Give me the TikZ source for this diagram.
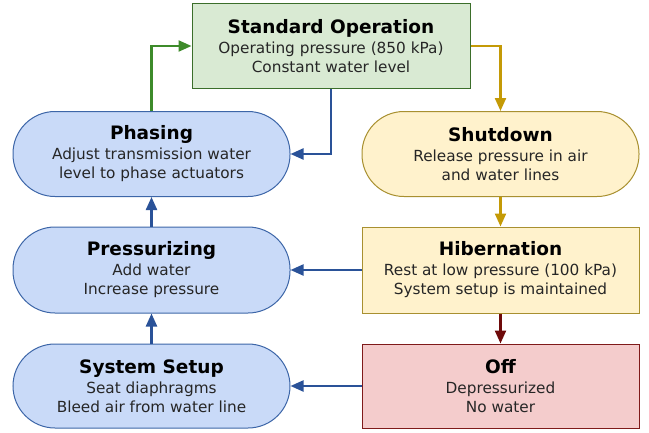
\documentclass[tikz,border=0pt]{standalone}
\usepackage{fontspec}
\setmainfont{DejaVu Sans}
\usetikzlibrary{arrows.meta}
\definecolor{bluefill}{HTML}{C9DAF8}
\definecolor{bluedraw}{HTML}{3D66A8}
\definecolor{bluearrow}{HTML}{2A5298}
\definecolor{greenfill}{HTML}{D9EAD3}
\definecolor{greendraw}{HTML}{3B6E2A}
\definecolor{greenarrow}{HTML}{3D8B2A}
\definecolor{yellowfill}{HTML}{FFF2CC}
\definecolor{yellowdraw}{HTML}{A89030}
\definecolor{goldarrow}{HTML}{C49A06}
\definecolor{redfill}{HTML}{F4CCCC}
\definecolor{reddraw}{HTML}{7F1A1A}
\definecolor{redarrow}{HTML}{6E0A0A}
\definecolor{bodytext}{HTML}{262626}
\newcommand{\ttl}[1]{{\fontsize{18.5}{22}\bfseries\color{black}#1}}
\newcommand{\bdy}{\fontsize{15.3}{19}\selectfont\color{bodytext}}
\begin{document}
\begin{tikzpicture}[x=1pt,y=-1pt,
  box/.style={draw, line width=1pt, minimum width=277pt, minimum height=85pt,
    align=center, inner sep=0pt, font=\bdy},
  pill/.style={box, rounded corners=42pt, fill=bluefill, draw=bluedraw},
  conn/.style={line width=2.2pt, -{Triangle[length=13pt,width=11pt]}}
]
\useasboundingbox (0,0) rectangle (649,432);
\node[box, fill=greenfill, draw=greendraw, minimum width=278pt] (std) at (331,46)
  {\ttl{Standard Operation}\\[1pt] Operating pressure (850 kPa)\\ Constant water level};
\node[box, rounded corners=42pt, fill=yellowfill, draw=yellowdraw] (shut) at (500.5,154)
  {\ttl{Shutdown}\\[1pt] Release pressure in air\\ and water lines};
\node[box, fill=yellowfill, draw=yellowdraw, minimum height=86pt] (hib) at (500.5,270)
  {\ttl{Hibernation}\\[1pt] Rest at low pressure (100 kPa)\\ System setup is maintained};
\node[box, fill=redfill, draw=reddraw, minimum height=84pt] (off) at (500.5,386)
  {\ttl{Off}\\[1pt] Depressurized\\ No water};
\node[pill] (phas) at (151.5,154)
  {\ttl{Phasing}\\[1pt] Adjust transmission water\\ level to phase actuators};
\node[pill, minimum height=86pt] (press) at (151.5,270)
  {\ttl{Pressurizing}\\[1pt] Add water\\ Increase pressure};
\node[pill, minimum height=84pt] (setup) at (151.5,386)
  {\ttl{System Setup}\\[1pt] Seat diaphragms\\ Bleed air from water line};

\draw[conn, greenarrow] (phas.north) |- (std.west);
\draw[conn, bluearrow] (std.south) |- (phas.east);
\draw[conn, goldarrow] (std.east) -| (shut.north);
\draw[conn, goldarrow] (shut.south) -- (hib.north);
\draw[conn, redarrow] (hib.south) -- (off.north);
\draw[conn, bluearrow] (hib.west) -- (press.east);
\draw[conn, bluearrow] (off.west) -- (setup.east);
\draw[conn, bluearrow] (setup.north) -- (press.south);
\draw[conn, bluearrow] (press.north) -- (phas.south);
\end{tikzpicture}
\end{document}
